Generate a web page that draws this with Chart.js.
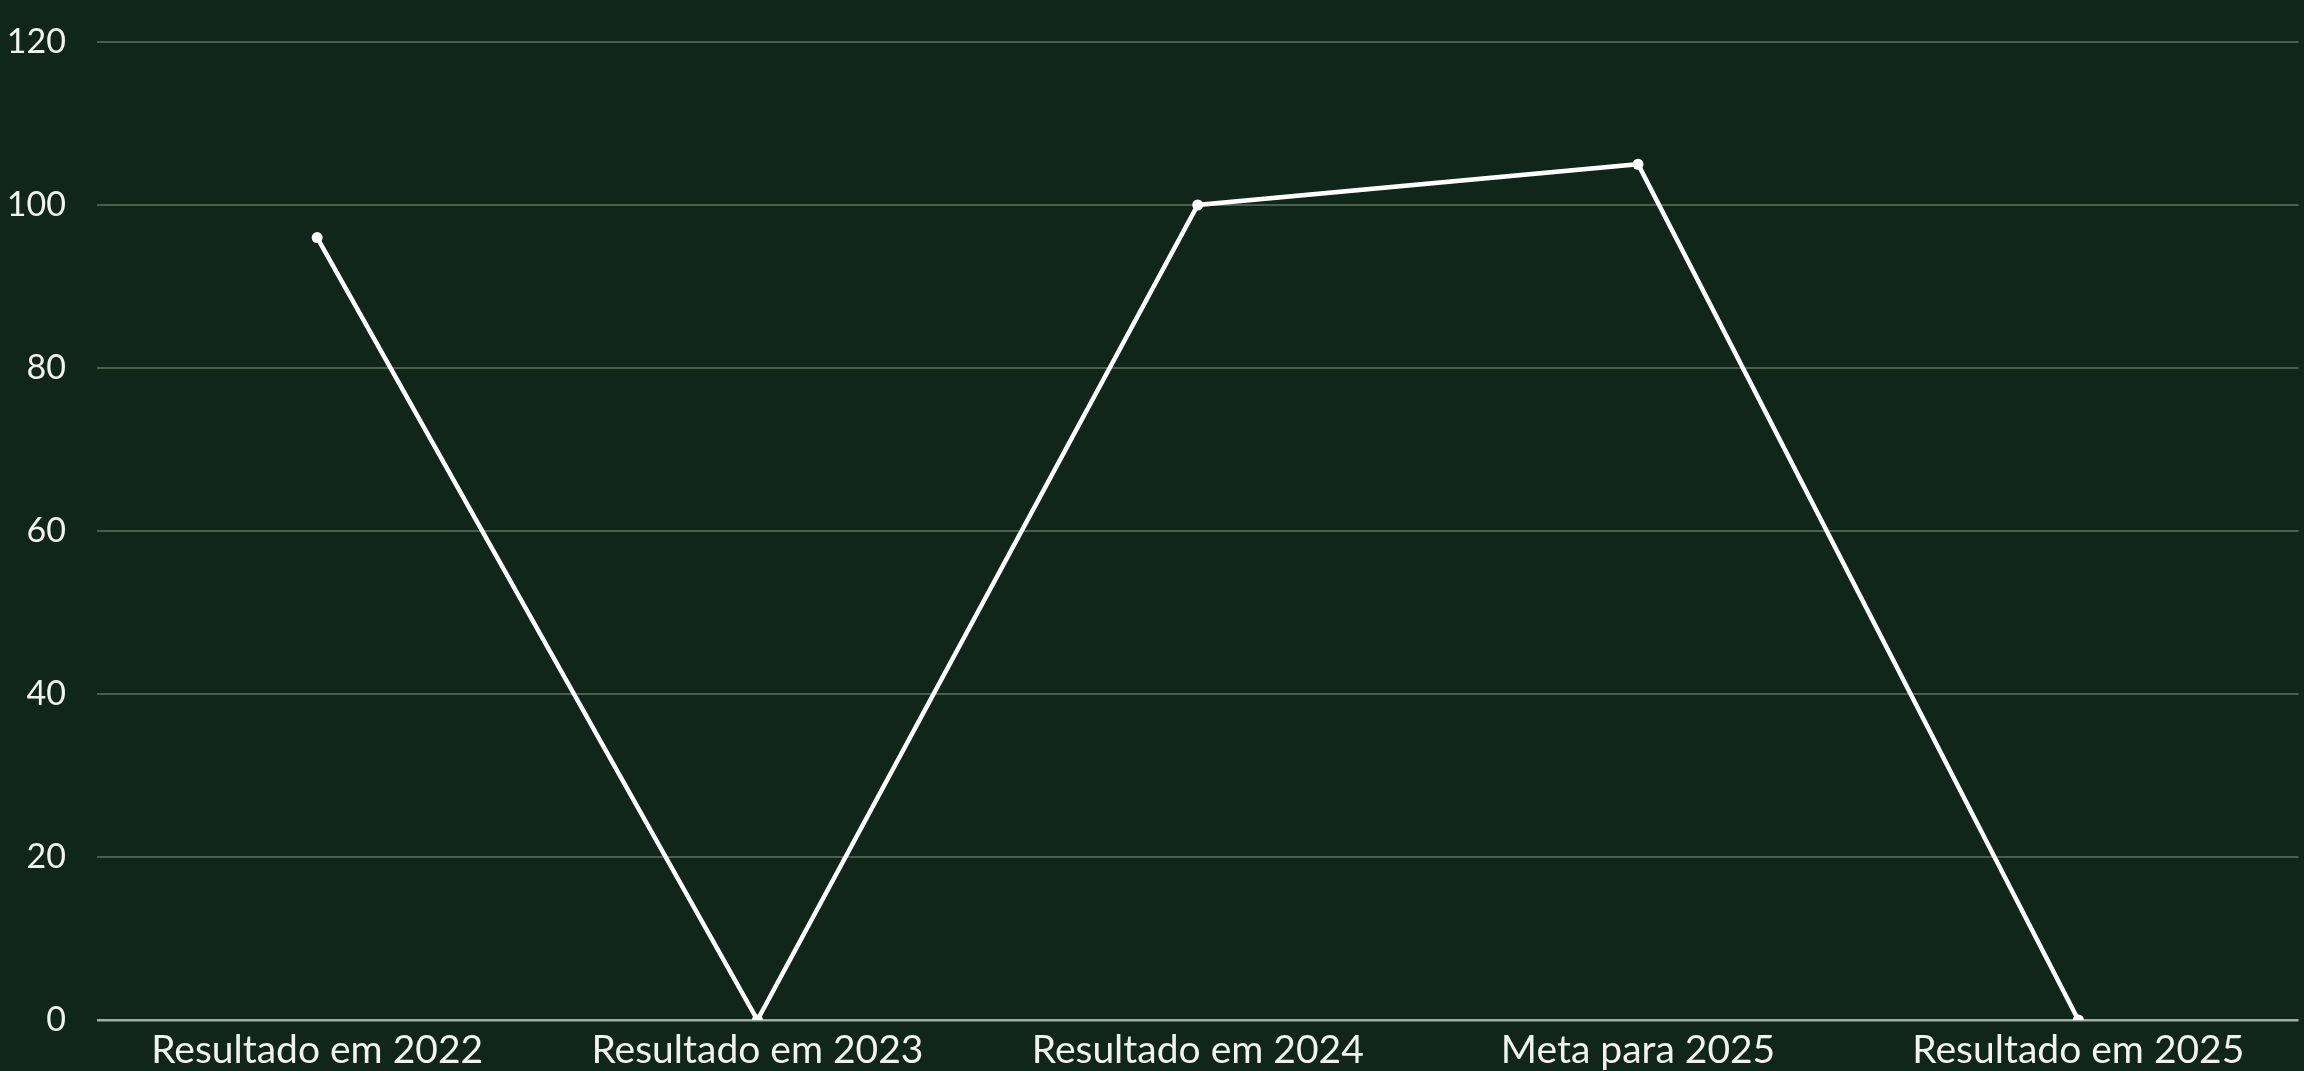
<!DOCTYPE html>
<html>
<head>
<meta charset="utf-8">
<script src="https://cdn.jsdelivr.net/npm/chart.js@4/dist/chart.umd.min.js"></script>
<style>
  html, body { margin: 0; padding: 0; background: #0f2618; }
  canvas { display: block; }
</style>
</head>
<body>
<canvas id="chart" width="2304" height="1071"></canvas>
<script>
var categories = ['Resultado em 2022', 'Resultado em 2023', 'Resultado em 2024', 'Meta para 2025', 'Resultado em 2025'];
var values = [96, 0, 100, 105, 0];
var yTicks = [0, 20, 40, 60, 80, 100, 120];

var bg = {
  id: 'bg',
  beforeDraw: function(chart) {
    var ctx = chart.ctx;
    ctx.save();
    ctx.fillStyle = '#0f2618';
    ctx.fillRect(0, 0, chart.width, chart.height);
    ctx.restore();
  }
};

new Chart(document.getElementById('chart').getContext('2d'), {
  type: 'line',
  data: {
    labels: categories,
    datasets: [{
      data: values,
      borderColor: '#ffffff',
      backgroundColor: '#ffffff',
      borderWidth: 4.5,
      pointRadius: 5.5,
      pointBackgroundColor: '#ffffff',
      pointBorderWidth: 0,
      tension: 0
    }]
  },
  options: {
    responsive: false,
    animation: false,
    layout: { padding: { top: 42, right: 0, bottom: 0, left: 0 } },
    plugins: { legend: { display: false }, tooltip: { enabled: false } },
    scales: {
      x: {
        offset: true,
        afterFit: function(axis) { axis.height = 51; axis.paddingLeft = 0; axis.paddingRight = 0; },
        grid: { display: false, drawTicks: false },
        border: { display: false },
        ticks: { color: '#f2f2ee', font: { family: 'Lato', size: 39, lineHeight: 0.9 }, padding: 13, maxRotation: 0 }
      },
      y: {
        min: yTicks[0],
        max: yTicks[yTicks.length - 1],
        afterBuildTicks: function(axis) { axis.ticks = yTicks.map(function(v) { return { value: v }; }); },
        afterFit: function(axis) { axis.width = 97; axis.paddingTop = 0; axis.paddingBottom = 0; },
        grid: {
          drawTicks: false,
          lineWidth: function(c) { return c.tick && c.tick.value === 0 ? 2.5 : 2; },
          color: function(c) { return c.tick && c.tick.value === 0 ? '#a3ada3' : '#4b5f4d'; }
        },
        border: { display: false },
        ticks: { color: '#f2f2ee', font: { family: 'Lato', size: 34 }, padding: 31 }
      }
    }
  },
  plugins: [bg]
});
</script>
</body>
</html>
